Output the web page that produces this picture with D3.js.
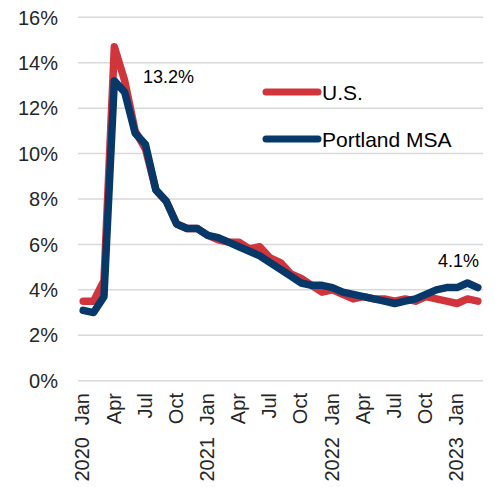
<!DOCTYPE html>
<html>
<head>
<meta charset="utf-8">
<script src="https://cdn.jsdelivr.net/npm/d3@7"></script>
<style>
  html, body { margin: 0; padding: 0; background: #fff; }
  svg { display: block; font-family: "Liberation Sans", Arial, sans-serif; }
</style>
</head>
<body>
<svg id="chart" width="495" height="487"></svg>
<script>
// ---- data ----
const months = ["Jan","Feb","Mar","Apr","May","Jun","Jul","Aug","Sep","Oct","Nov","Dec"];
const years = ["2020","2021","2022","2023"];
const periods = []; // Jan 2020 .. Mar 2023
years.forEach(y => months.forEach(m => { if (periods.length < 39) periods.push(y + " " + m); }));

const usValues = [
  3.5, 3.5, 4.4, 14.7, 13.2, 11.0, 10.2, 8.4, 7.9, 6.9, 6.7, 6.7,
  6.4, 6.2, 6.1, 6.1, 5.8, 5.9, 5.4, 5.2, 4.7, 4.5, 4.2, 3.9,
  4.0, 3.8, 3.6, 3.7, 3.6, 3.6, 3.5, 3.6, 3.5, 3.7, 3.6, 3.5,
  3.4, 3.6, 3.5
];
const portlandValues = [
  3.1, 3.0, 3.7, 13.2, 12.7, 10.9, 10.4, 8.4, 7.9, 6.9, 6.7, 6.7,
  6.4, 6.3, 6.1, 5.9, 5.7, 5.5, 5.2, 4.9, 4.6, 4.3, 4.2, 4.2,
  4.1, 3.9, 3.8, 3.7, 3.6, 3.5, 3.4, 3.5, 3.6, 3.8, 4.0, 4.1,
  4.1, 4.3, 4.1
];
const seriesNames = ["U.S.", "Portland MSA"];
const yTicks = [0, 2, 4, 6, 8, 10, 12, 14, 16];
const monthTickLabels = ["Jan","Apr","Jul","Oct"];
const annotations = [
  { series: 1, index: 3, text: "13.2%" },
  { series: 1, index: 38, text: "4.1%" }
];

// ---- layout ----
const svg = d3.select("#chart");
const plot = { left: 78, right: 483, top: 17.3, bottom: 380.7 };
const colors = ["#d1343b", "#06386a"];
const textColor = "#262626";

const x = d3.scaleBand().domain(periods).range([plot.left, plot.right]);
const cx = p => x(p) + x.bandwidth() / 2;
const y = d3.scaleLinear().domain([0, 16]).range([plot.bottom, plot.top]);

// gridlines
svg.append("g").selectAll("line").data(yTicks).join("line")
  .attr("x1", plot.left).attr("x2", plot.right)
  .attr("y1", d => y(d)).attr("y2", d => y(d))
  .attr("stroke", "#d9d9d9").attr("stroke-width", 1.5);

// y axis labels
svg.append("g").selectAll("text").data(yTicks).join("text")
  .attr("x", 58).attr("y", d => y(d)).attr("dy", "0.36em")
  .attr("text-anchor", "end").attr("font-size", 20).attr("fill", textColor)
  .text(d => d + "%");

// x axis labels: months (every quarter) and years
const xLab = svg.append("g");
periods.forEach((p, i) => {
  const [yr, mo] = p.split(" ");
  if (monthTickLabels.includes(mo)) {
    xLab.append("text")
      .attr("transform", `translate(${cx(p) - 1},393) rotate(-90)`)
      .attr("dy", "0.36em").attr("text-anchor", "end")
      .attr("font-size", 20).attr("fill", textColor).text(mo);
  }
  if (mo === "Jan") {
    xLab.append("text")
      .attr("transform", `translate(${cx(p) - 1},437) rotate(-90)`)
      .attr("dy", "0.36em").attr("text-anchor", "end")
      .attr("font-size", 20).attr("fill", textColor).text(yr);
  }
});

// lines
const line = d3.line().x((d, i) => cx(periods[i])).y(d => y(d));
[usValues, portlandValues].forEach((vals, k) => {
  svg.append("path").datum(vals)
    .attr("d", line).attr("fill", "none")
    .attr("stroke", colors[k]).attr("stroke-width", 7.5)
    .attr("stroke-linejoin", "round").attr("stroke-linecap", "round");
});

// annotations
svg.append("text").attr("x", 143).attr("y", 83)
  .attr("font-size", 18).attr("fill", "#000").text(annotations[0].text);
svg.append("text").attr("x", 479).attr("y", 267).attr("text-anchor", "end")
  .attr("font-size", 18).attr("fill", "#000").text(annotations[1].text);

// legend
const legendY = [92, 139];
seriesNames.forEach((name, k) => {
  svg.append("line")
    .attr("x1", 266).attr("x2", 318)
    .attr("y1", legendY[k]).attr("y2", legendY[k])
    .attr("stroke", colors[k]).attr("stroke-width", 7).attr("stroke-linecap", "round");
  svg.append("text").attr("x", 322).attr("y", legendY[k] + 7.5)
    .attr("font-size", 21).attr("fill", "#000").text(name);
});
</script>
</body>
</html>
